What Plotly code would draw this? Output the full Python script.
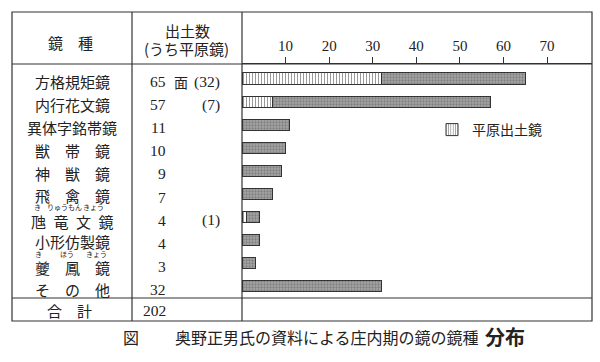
import plotly.graph_objects as go

# ---- data ----
categories = ["方格規矩鏡", "内行花文鏡", "異体字銘帯鏡", "獣　帯　鏡", "神　獣　鏡",
              "飛　禽　鏡", "虺\u2002竜\u2002文\u2002鏡", "小形仿製鏡", "夔　鳳　鏡", "そ　の　他"]
totals = [65, 57, 11, 10, 9, 7, 4, 4, 3, 32]
hirabara = [32, 7, 0, 0, 0, 0, 1, 0, 0, 0]
hirabara_label = ["(32)", "(7)", "", "", "", "", "(1)", "", "", ""]
total_sum = 202
x_ticks = [10, 20, 30, 40, 50, 60, 70]

W, H = 600, 362
def px(x): return x / W
def py(y): return (H - y) / H

rest = [t - h for t, h in zip(totals, hirabara)]

fig = go.Figure()
fig.add_trace(go.Bar(
    y=categories, x=hirabara, orientation="h", name="平原出土鏡",
    width=0.48,
    marker=dict(color="white", line=dict(color="#333", width=1),
                pattern=dict(shape="|", fgcolor="#333", bgcolor="white", size=3, solidity=0.35)),
    showlegend=True,
))
fig.add_trace(go.Bar(
    y=categories, x=rest, orientation="h", name="その他",
    width=0.48,
    marker=dict(color="#8f8f8f", line=dict(color="#333", width=1),
                pattern=dict(shape=".", fgcolor="#5a5a5a", bgcolor="#a6a6a6", size=3, solidity=0.45)),
    showlegend=False,
))

line = dict(color="#333", width=1.2)
shapes = [
    dict(type="rect", xref="paper", yref="paper", x0=px(12), x1=px(592), y0=py(12), y1=py(321), line=line),
    dict(type="line", xref="paper", yref="paper", x0=px(132), x1=px(132), y0=py(12), y1=py(321), line=line),
    dict(type="line", xref="paper", yref="paper", x0=px(242), x1=px(242), y0=py(12), y1=py(321), line=line),
    dict(type="line", xref="paper", yref="paper", x0=px(12), x1=px(592), y0=py(64), y1=py(64), line=line),
    dict(type="line", xref="paper", yref="paper", x0=px(12), x1=px(592), y0=py(298), y1=py(298), line=line),
]

jp = "Noto Sans CJK JP"
serif = "Liberation Serif"
ann = []
def A(x, y, text, size=15, family=jp, xanchor="center", yref="paper", color="#222", yshift=0):
    ann.append(dict(x=x, y=y, xref="paper", yref=yref, text=text, showarrow=False,
                    xanchor=xanchor, yanchor="middle", yshift=yshift, borderpad=0,
                    font=dict(size=size, family=family, color=color)))

# header
A(px(70), py(42), "鏡　種", 15)
A(px(187), py(31), "出土数", 15)
A(px(186), py(48), "(うち平原鏡)", 15)

# rows (small vertical nudges leave room for the furigana rows)
name_shift = [-3, -3, -3, -3, -3, -1, -4, -1, -4, -3]
for i, c in enumerate(categories):
    A(px(72), c, c, 15, yref="y", yshift=name_shift[i])
    A(px(167), c, str(totals[i]), 15.5, family=serif, xanchor="right", yref="y", yshift=-3)
    if hirabara_label[i]:
        A(px(221), c, hirabara_label[i], 15.5, family=serif, xanchor="right", yref="y", yshift=-3)
A(px(181), categories[0], "面", 14, yref="y", yshift=-3)

# furigana
def ruby(items, yc):
    for x, t in items:
        A(px(x), py(yc), t, 7)
ruby([(37, "き"), (57, "りゅう"), (75, "もん"), (93, "きょう")], 207)
ruby([(38, "き"), (67, "ほう"), (97, "きょう")], 254)

# total row
A(px(69), py(310), "合　計", 15)
A(px(167), py(310), str(total_sum), 15.5, family=serif, xanchor="right")

# caption
A(px(131), py(337), "図", 16)
A(px(174), py(337), "奥野正男氏の資料による庄内期の鏡の鏡種", 16, xanchor="left")
A(px(484), py(336), "<b>分布</b>", 20, xanchor="left")

fig.update_layout(
    width=W, height=H, autosize=False,
    margin=dict(l=0, r=0, t=0, b=0),
    paper_bgcolor="white", plot_bgcolor="white",
    barmode="stack", bargap=0.5,
    xaxis=dict(domain=[px(242), px(592)], range=[0, 80.3], side="top",
               tickvals=x_ticks, ticks="outside", ticklen=6, tickcolor="#333",
               showline=True, linecolor="#333", linewidth=1.2, showgrid=False, zeroline=False,
               tickfont=dict(family=serif, size=15, color="#222")),
    yaxis=dict(domain=[py(298), py(64)], categoryorder="array", categoryarray=categories,
               autorange="reversed", showticklabels=False, showgrid=False, zeroline=False,
               showline=False, ticks=""),
    legend=dict(x=px(432), y=py(130), xanchor="left", yanchor="middle",
                bgcolor="rgba(0,0,0,0)", font=dict(family=jp, size=14, color="#222")),
    shapes=shapes, annotations=ann,
)

fig.write_html("out.html", config={"displayModeBar": False},
               post_script="document.body.style.margin='0';document.body.style.padding='0';")
